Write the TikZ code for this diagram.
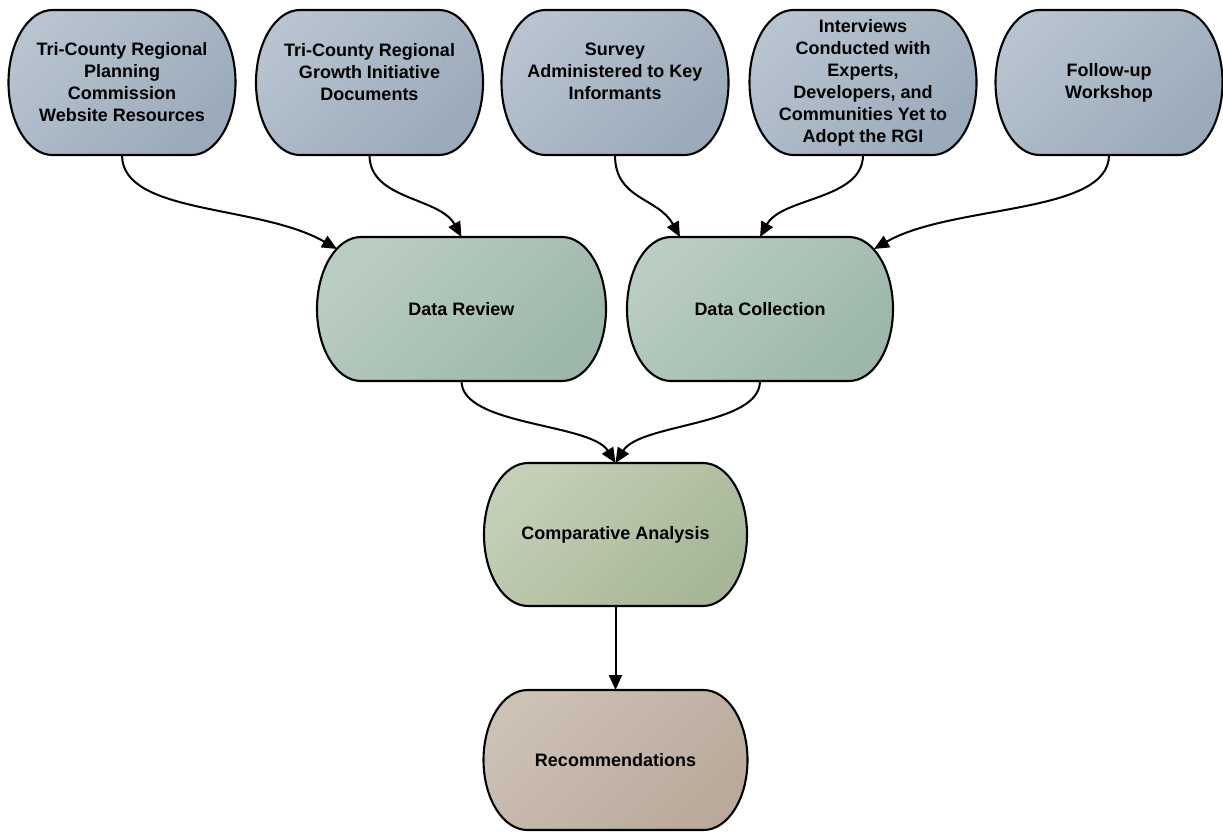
\documentclass[tikz,border=0pt]{standalone}
\usepackage{fontspec}
\setmainfont{Liberation Sans}
\usetikzlibrary{arrows.meta,backgrounds}
\definecolor{blueL}{HTML}{B7C3CF}
\definecolor{blueD}{HTML}{9BAABA}
\definecolor{greenL}{HTML}{BACDC2}
\definecolor{greenD}{HTML}{9DB7AB}
\definecolor{oliveL}{HTML}{C4CFB7}
\definecolor{oliveD}{HTML}{A6B797}
\definecolor{tanL}{HTML}{CDC0B5}
\definecolor{tanD}{HTML}{B9AA9B}
\tikzset{
  box/.style={rectangle, draw=none, inner sep=0pt, outer sep=0pt, align=center,
    font=\fontsize{18}{22}\selectfont\bfseries, text=black},
  topbox/.style={box, minimum width=227pt, minimum height=145pt},
  boxline/.style={draw=black, line width=2.1pt},
  bluefill/.style={top color=blueL, bottom color=blueD, shading angle=45},
  greenfill/.style={top color=greenL, bottom color=greenD, shading angle=45},
  olivefill/.style={top color=oliveL, bottom color=oliveD, shading angle=45},
  tanfill/.style={top color=tanL, bottom color=tanD, shading angle=45},
  conn/.style={draw=black, line width=2pt, -{Triangle[length=15pt,width=13pt]}},
}
\newcommand\drawblob[3]{%
  \pgfmathsetmacro\blobky{0.5523*#2}%
  \begin{pgfonlayer}{background}
  \path[boxline,#3] ([xshift=44pt]#1.north west) -- ([xshift=-44pt]#1.north east)
    .. controls +(24.3pt,0pt) and +(0pt,\blobky pt) .. (#1.east)
    .. controls +(0pt,-\blobky pt) and +(24.3pt,0pt) .. ([xshift=-44pt]#1.south east)
    -- ([xshift=44pt]#1.south west)
    .. controls +(-24.3pt,0pt) and +(0pt,-\blobky pt) .. (#1.west)
    .. controls +(0pt,\blobky pt) and +(-24.3pt,0pt) .. ([xshift=44pt]#1.north west) -- cycle;
  \end{pgfonlayer}}
\begin{document}
\begin{tikzpicture}[x=1pt,y=1pt]
\useasboundingbox (0,0) rectangle (1223,831);
% top row
\node[topbox] (b1) at (122,748.5) {Tri-County Regional\\Planning\\Commission\\Website Resources};
\node[topbox] (b2) at (369.5,748.5) {Tri-County Regional\\Growth Initiative\\Documents\\\mbox{}};
\node[topbox] (b3) at (615,748.5) {Survey\\Administered to Key\\Informants\\\mbox{}};
\node[topbox] (b4) at (863,748.5) {Interviews\\Conducted with\\Experts,\\Developers, and\\Communities Yet to\\Adopt the RGI};
\node[topbox] (b5) at (1109,748.5) {Follow-up\\Workshop};
% middle row
\node[box, minimum width=289pt, minimum height=144pt] (dr) at (461.5,522) {Data Review};
\node[box, minimum width=266pt, minimum height=144pt] (dc) at (760,522) {Data Collection};
% lower
\node[box, minimum width=263pt, minimum height=143pt] (ca) at (615.5,296.5) {Comparative Analysis};
\node[box, minimum width=264pt, minimum height=140pt] (rec) at (615.5,71) {Recommendations};
\drawblob{b1}{72.5}{bluefill}
\drawblob{b2}{72.5}{bluefill}
\drawblob{b3}{72.5}{bluefill}
\drawblob{b4}{72.5}{bluefill}
\drawblob{b5}{72.5}{bluefill}
\drawblob{dr}{72}{greenfill}
\drawblob{dc}{72}{greenfill}
\drawblob{ca}{71.5}{olivefill}
\drawblob{rec}{70}{tanfill}
% connector end points on curved sides
\coordinate (drin) at (337,582);
\coordinate (dcin) at (874,582);
\coordinate (dcin2) at ([xshift=-80pt]dc.north);
% connectors
\draw[conn] (b1.south) .. controls +(0pt,-60pt) and +(-78pt,45pt) .. (drin);
\draw[conn] (b2.south) .. controls +(0pt,-45pt) and +(-22pt,40pt) .. (dr.north);
\draw[conn] (b3.south) .. controls +(0pt,-45pt) and +(-22pt,40pt) .. (dcin2);
\draw[conn] (b4.south) .. controls +(0pt,-45pt) and +(22pt,40pt) .. (dc.north);
\draw[conn] (b5.south) .. controls +(0pt,-60pt) and +(78pt,45pt) .. (dcin);
\draw[conn] (dr.south) .. controls +(0pt,-45pt) and +(-25pt,40pt) .. (ca.north);
\draw[conn] (dc.south) .. controls +(0pt,-45pt) and +(25pt,40pt) .. (ca.north);
\draw[conn] (ca.south) -- (rec.north);
\end{tikzpicture}
\end{document}
